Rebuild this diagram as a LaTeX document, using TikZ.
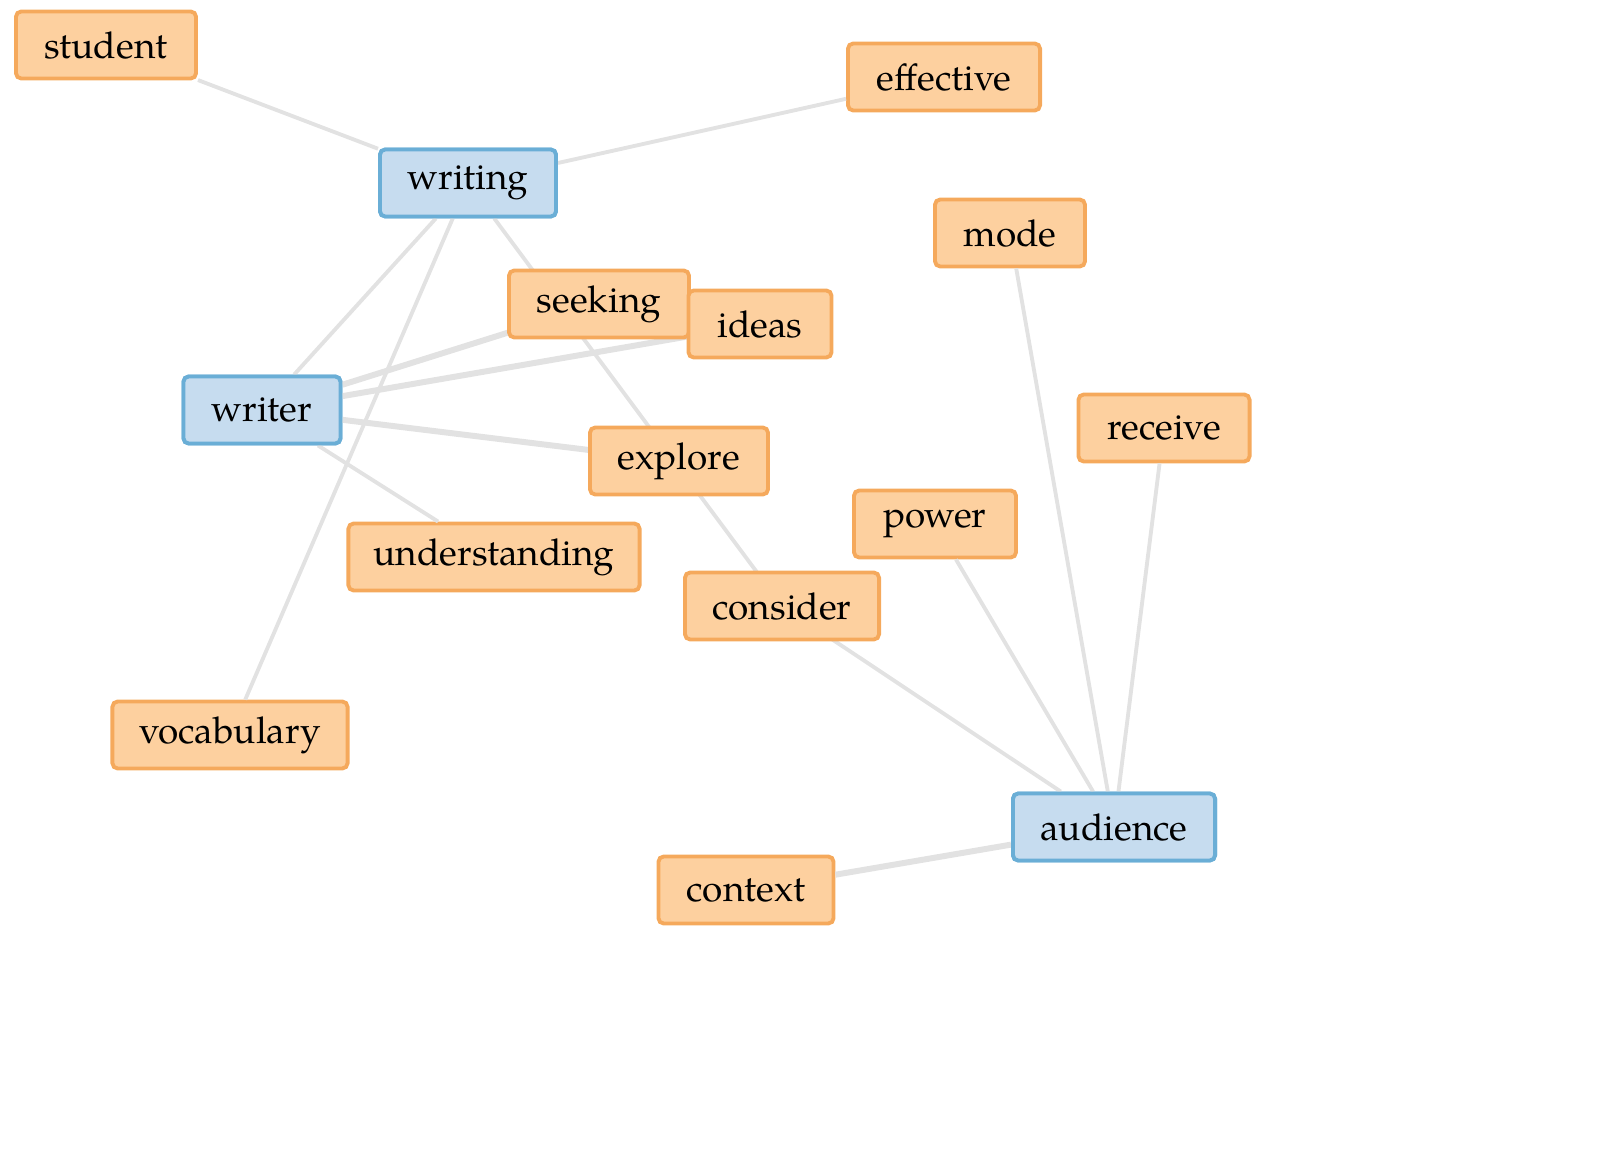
\documentclass[tikz,border=0pt]{standalone}
\usepackage{fontspec}
\setmainfont{TeX Gyre Pagella}
\definecolor{ofill}{HTML}{FDD09F}
\definecolor{oline}{HTML}{F5A95C}
\definecolor{bfill}{HTML}{C6DCEF}
\definecolor{bline}{HTML}{6AAED6}
\definecolor{edge}{HTML}{E2E2E2}
\tikzset{
 term/.style={draw=oline,fill=ofill,line width=1.1pt,rounded corners=1.5pt,minimum height=0.67cm,inner sep=0pt,font=\fontsize{10.5}{12}\selectfont},
 hub/.style={term,draw=bline,fill=bfill},
 link/.style={draw=edge,line width=1.1pt},
 tlink/.style={draw=edge,line width=1.7pt}
}
\begin{document}
\begin{tikzpicture}[x=0.01cm,y=-0.01cm]
\useasboundingbox (0,0) rectangle (1600,1164);
\node[term,minimum width=1.80cm] (student) at (106,45) {student};
\node[term,minimum width=1.92cm] (effective) at (944,77) {effective};
\node[hub,minimum width=1.76cm] (writing) at (468,183) {writing};
\node[term,minimum width=1.50cm] (mode) at (1010,233) {mode};
\node[hub,minimum width=1.57cm] (writer) at (262,410) {writer};
\node[term,minimum width=1.71cm] (receive) at (1164,428) {receive};
\node[term,minimum width=1.62cm] (power) at (935,524) {power};
\node[term,minimum width=2.91cm] (understanding) at (494,557) {understanding};
\node[term,minimum width=2.35cm] (vocabulary) at (230,735) {vocabulary};
\node[hub,minimum width=2.02cm] (audience) at (1114,827) {audience};
\node[term,minimum width=1.75cm] (context) at (746,890) {context};
\path[link] (student) -- (writing);
\path[link] (writing) -- (effective);
\path[link] (writing) -- (writer);
\path[link] (writing) -- (vocabulary);
\path[link] (writer) -- (understanding);
\path[link] (mode) -- (audience);
\path[link] (receive) -- (audience);
\path[link] (power) -- (audience);
\path[tlink] (context) -- (audience);
\coordinate (cc) at (782,606);
\coordinate (sc) at (599,304);
\coordinate (ic) at (760,324);
\coordinate (ec) at (679,461);
\path[link] (writing) -- (cc);
\path[tlink] (writer) -- (sc);
\path[tlink] (writer) -- (ic);
\path[tlink] (writer) -- (ec);
\path[link] (cc) -- (audience);
\node[term,minimum width=1.80cm] (seeking) at (sc) {seeking};
\node[term,minimum width=1.43cm] (ideas) at (ic) {ideas};
\node[term,minimum width=1.78cm] (explore) at (ec) {explore};
\node[term,minimum width=1.94cm] (consider) at (cc) {consider};
\node[hub,minimum width=1.76cm] (writingtop) at (writing) {writing};
\node[hub,minimum width=1.57cm] (writertop) at (writer) {writer};
\node[hub,minimum width=2.02cm] (audiencetop) at (audience) {audience};
\end{tikzpicture}
\end{document}
